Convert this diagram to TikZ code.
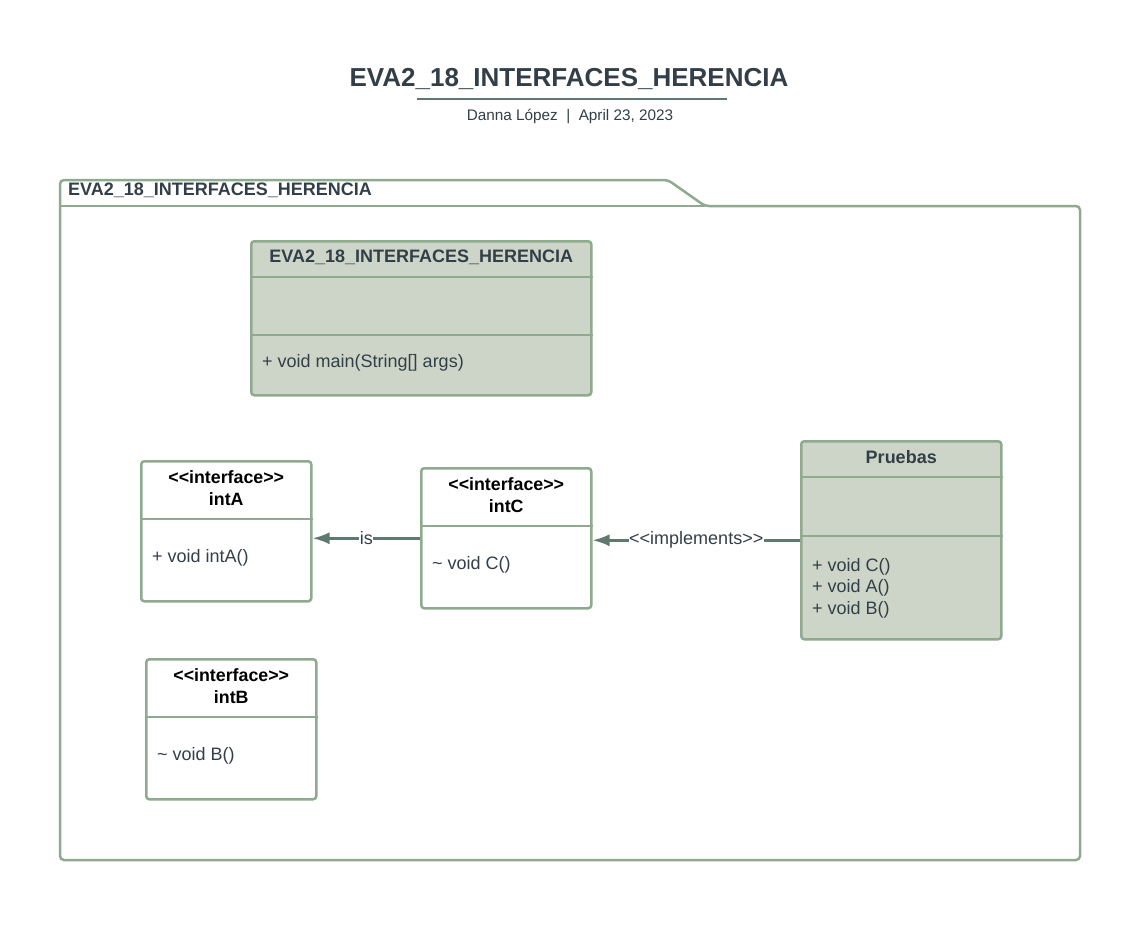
\documentclass[tikz,border=0pt]{standalone}
\usepackage{fontspec}
\setmainfont{Liberation Sans}
\usepackage{xcolor}
\usetikzlibrary{arrows.meta,calc,positioning}
\definecolor{umlborder}{HTML}{8FAA8F}
\definecolor{umlfill}{HTML}{CDD5C8}
\definecolor{umltext}{HTML}{333F48}
\definecolor{umlarrow}{HTML}{5E7A6E}
\newcommand\stereo[1]{<\kern0pt<#1>\kern0pt>}

\tikzset{
  classbox/.style={draw=umlborder,line width=2.5pt,rounded corners=3pt,fill=umlfill,inner sep=0pt,anchor=north west},
  ifacebox/.style={classbox,fill=white},
  divider/.style={draw=umlborder,line width=2.5pt},
  boldlbl/.style={font=\bfseries\fontsize{18}{21.5}\selectfont,text=umltext,align=center},
  ifacelbl/.style={boldlbl,text=black,font=\bfseries\fontsize{17.8}{21.5}\selectfont},
  methlbl/.style={font=\fontsize{18}{21.5}\selectfont,text=umltext,anchor=west,align=left,inner sep=0pt},
  realize/.style={draw=umlarrow,line width=2.5pt,-{Latex[length=17pt,width=12pt]}},
  arrowlbl/.style={fill=white,inner sep=0.5pt,font=\fontsize{18}{21}\selectfont,text=umltext}
}

\begin{document}
\begin{tikzpicture}[x=1pt,y=-1pt]
\fill[white] (0,0) rectangle (1133,938);
\useasboundingbox (0,0) rectangle (1133,938);

% title block
\node[font=\bfseries\fontsize{26}{31}\selectfont,text=umltext] (title) at (569,79) {EVA2\_18\_INTERFACES\_HERENCIA};
\draw[umlarrow,line width=2pt] (417,99) -- (727,99);
\node[font=\fontsize{15.3}{18}\selectfont,text=umltext] (byline) at (570,116) {Danna López \ | \ April 23, 2023};

% package
\draw[umlborder,line width=2.5pt,rounded corners=4pt] (60,206) -- (60,860) -- (1080,860) -- (1080,206) -- (705,206) -- (668,180) -- (60,180) -- cycle;
\draw[umlborder,line width=2.5pt] (60,206) -- (705,206);
\node[boldlbl,anchor=west,inner sep=0pt] (pkgname) at (68,190) {EVA2\_18\_INTERFACES\_HERENCIA};

% main class
\node[classbox,minimum width=340pt,minimum height=154pt] (main) at (250,240) {};
\draw[divider] ([yshift=-37pt]main.north west) -- ([yshift=-37pt]main.north east);
\draw[divider] ([yshift=-95pt]main.north west) -- ([yshift=-95pt]main.north east);
\node[boldlbl] (mainname) at ([yshift=-17pt]main.north) {EVA2\_18\_INTERFACES\_HERENCIA};
\node[methlbl] (mainops) at ([xshift=12pt,yshift=-123pt]main.north west) {+ void main(String[] args)};

% interfaces
\node[ifacebox,minimum width=170pt,minimum height=140pt] (intA) at (140,460) {};
\draw[divider] ([yshift=-59pt]intA.north west) -- ([yshift=-59pt]intA.north east);
\node[ifacelbl] (intAname) at ([yshift=-28pt]intA.north) {\stereo{interface}\\intA};
\node[methlbl] (intAops) at ([xshift=12pt,yshift=-98pt]intA.north west) {+ void intA()};

\node[ifacebox,minimum width=170pt,minimum height=140pt] (intC) at (420,467) {};
\draw[divider] ([yshift=-59pt]intC.north west) -- ([yshift=-59pt]intC.north east);
\node[ifacelbl] (intCname) at ([yshift=-28pt]intC.north) {\stereo{interface}\\intC};
\node[methlbl] (intCops) at ([xshift=12pt,yshift=-98pt]intC.north west) {\textasciitilde{} void C()};

\node[ifacebox,minimum width=170pt,minimum height=140pt] (intB) at (145,658) {};
\draw[divider] ([yshift=-59pt]intB.north west) -- ([yshift=-59pt]intB.north east);
\node[ifacelbl] (intBname) at ([yshift=-28pt]intB.north) {\stereo{interface}\\intB};
\node[methlbl] (intBops) at ([xshift=12pt,yshift=-98pt]intB.north west) {\textasciitilde{} void B()};

% implementing class
\node[classbox,minimum width=200pt,minimum height=198pt] (pruebas) at (800,440) {};
\draw[divider] ([yshift=-37pt]pruebas.north west) -- ([yshift=-37pt]pruebas.north east);
\draw[divider] ([yshift=-96pt]pruebas.north west) -- ([yshift=-96pt]pruebas.north east);
\node[boldlbl] (pruebasname) at ([yshift=-17pt]pruebas.north) {Pruebas};
\node[methlbl,anchor=north west] (pruebasops) at ([xshift=12pt,yshift=-118pt]pruebas.north west) {+ void C()\\+ void A()\\+ void B()};

% relations
\draw[realize] (intC.west) -- (intC.west -| intA.east) node[arrowlbl,midway] (islbl) {is};
\draw[realize] (pruebas.west) -- (pruebas.west -| intC.east) node[arrowlbl,midway] (impllbl) {\stereo{implements}};
\end{tikzpicture}
\end{document}
